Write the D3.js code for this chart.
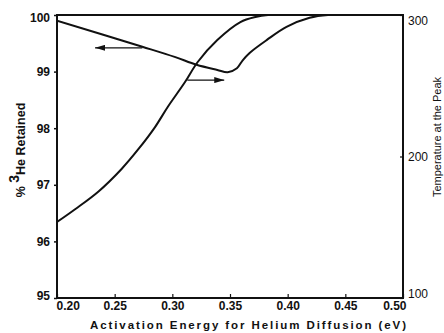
<!DOCTYPE html>
<html><head><meta charset="utf-8">
<script src="https://cdn.jsdelivr.net/npm/d3@7"></script>
<style>body{margin:0;background:#fff}svg{display:block}</style>
</head><body>
<script>
// Curve A: % 3He retained (left axis)
const retainedX = [0.200,0.274,0.302,0.321,0.339,0.348,0.356,0.361,0.367,0.382,0.399,0.419,0.435,0.470,0.500];
const retainedY = [99.90,99.44,99.26,99.12,99.03,98.99,99.06,99.20,99.33,99.56,99.79,99.95,100.0,100.0,100.0];
// Curve B: temperature at the peak (right axis)
const tempX = [0.200,0.216,0.236,0.256,0.270,0.285,0.296,0.311,0.322,0.339,0.359,0.372,0.383,0.450,0.500];
const tempY = [153.7,162.9,175.3,191.2,204.6,220.8,235.0,252.6,266.8,282.3,295.0,298.6,300.0,300.0,300.0];
const xTicks = [0.20,0.25,0.30,0.35,0.40,0.45,0.50];
const leftTicks = [95,96,97,98,99,100];
const rightTicks = [100,200,300];
// annotation arrows: [xFrom, xTo, yLeftAxis]
const arrows = [[0.274,0.233,99.42],[0.313,0.345,98.85]];

const W=444,H=333;
const m={l:57,r:403,t:15,b:298};
const svg=d3.select("body").append("svg").attr("width",W).attr("height",H);
const x=d3.scaleLinear().domain([0.2,0.5]).range([m.l,m.r]);
const yL=d3.scaleLinear().domain([95,100]).range([m.b,m.t]);
const yR=d3.scaleLinear().domain([100,300]).range([m.b,m.t]);
const font="'Liberation Sans', Arial, sans-serif";

const defs=svg.append("defs");
defs.append("marker").attr("id","ah").attr("viewBox","0 0 10 6")
  .attr("refX",10).attr("refY",3).attr("markerWidth",10).attr("markerHeight",6)
  .attr("markerUnits","userSpaceOnUse").attr("orient","auto")
  .append("path").attr("d","M0,0L10,3L0,6Z").attr("fill","#111");
defs.append("clipPath").attr("id","clip").append("rect")
  .attr("x",m.l).attr("y",m.t).attr("width",m.r-m.l).attr("height",m.b-m.t);

// left axis
const gl=svg.append("g").attr("transform",`translate(${m.l},0)`)
  .call(d3.axisLeft(yL).tickValues(leftTicks).tickSize(3).tickPadding(4).tickFormat(d3.format("d")));
gl.select(".domain").remove();
gl.selectAll("line").attr("stroke","#111").attr("stroke-width",1.5);
gl.selectAll("text").attr("font-family",font).attr("font-weight","bold").attr("font-size",12).attr("fill","#111")
  .attr("dy",(d)=>d===100?"0.5em":d===95?"0.15em":"0.32em");

// bottom axis
const gb=svg.append("g").attr("transform",`translate(0,${m.b})`)
  .call(d3.axisBottom(x).tickValues(xTicks).tickSizeInner(-4).tickSizeOuter(0).tickPadding(3).tickFormat(d3.format(".2f")));
gb.select(".domain").remove();
gb.selectAll("line").attr("stroke","#111").attr("stroke-width",1.2);
gb.selectAll("text").attr("font-family",font).attr("font-weight","bold").attr("font-size",12).attr("fill","#111")
  .attr("text-anchor",(d)=>d===0.2?"start":d===0.5?"end":"middle")
  .attr("dx",(d)=>d===0.2?"-1":d===0.5?"3":"0");

// right axis
const gr=svg.append("g").attr("transform",`translate(${m.r},0)`)
  .call(d3.axisRight(yR).tickValues(rightTicks).tickSizeInner(-3).tickSizeOuter(0).tickPadding(5).tickFormat(d3.format("d")));
gr.select(".domain").remove();
gr.selectAll("line").attr("stroke","#111").attr("stroke-width",1.2);
gr.selectAll("text").attr("font-family",font).attr("font-size",12).attr("fill","#111")
  .attr("dy",(d)=>d===300?"0.8em":d===100?"-0.05em":"0.32em");

// curves
const line=d3.line().curve(d3.curveCatmullRom.alpha(0.5));
const cg=svg.append("g").attr("clip-path","url(#clip)");
cg.append("path").attr("d",line(retainedX.map((v,i)=>[x(v),yL(retainedY[i])])))
  .attr("fill","none").attr("stroke","#111").attr("stroke-width",2);
cg.append("path").attr("d",line(tempX.map((v,i)=>[x(v),yR(tempY[i])])))
  .attr("fill","none").attr("stroke","#111").attr("stroke-width",2);

// frame
svg.append("rect").attr("x",m.l).attr("y",m.t).attr("width",m.r-m.l).attr("height",m.b-m.t)
  .attr("fill","none").attr("stroke","#111").attr("stroke-width",2);

// arrows
arrows.forEach(a=>{
  svg.append("line").attr("x1",x(a[0])).attr("x2",x(a[1])).attr("y1",yL(a[2])).attr("y2",yL(a[2]))
    .attr("stroke","#111").attr("stroke-width",1.2).attr("marker-end","url(#ah)");
});

// titles
svg.append("text").attr("x",248).attr("y",329).attr("text-anchor","middle")
  .attr("font-family",font).attr("font-weight","bold").attr("font-size",11.5).attr("fill","#111")
  .attr("textLength",316).attr("lengthAdjust","spacing")
  .text("Activation Energy for Helium Diffusion  (eV)");

const lt=svg.append("text").attr("transform","translate(25,150) rotate(-90)").attr("text-anchor","middle")
  .attr("font-family",font).attr("font-weight","bold").attr("font-size",12.5).attr("fill","#111");
lt.append("tspan").text("% ");
lt.append("tspan").attr("dy",-6).attr("font-size",14).text("3");
lt.append("tspan").attr("dy",6).text("He Retained");

svg.append("text").attr("transform","translate(441,137) rotate(-90)").attr("text-anchor","middle")
  .attr("font-family",font).attr("font-size",11).attr("fill","#111")
  .attr("textLength",120).attr("lengthAdjust","spacing")
  .text("Temperature at the Peak");
</script>
</body></html>
